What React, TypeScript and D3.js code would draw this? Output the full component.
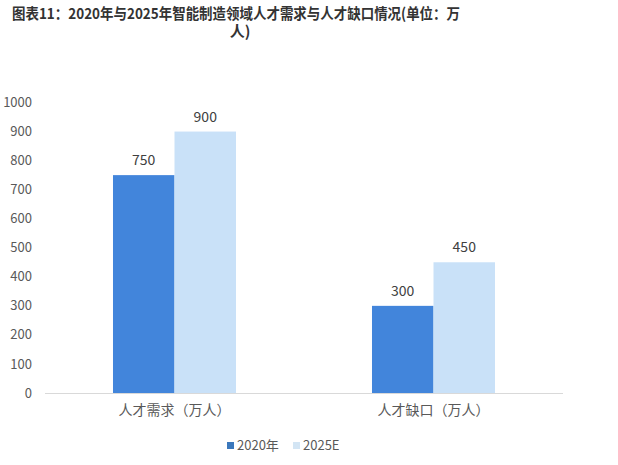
import React from 'react';
import * as d3 from 'd3';

const titleLines = ['图表11：2020年与2025年智能制造领域人才需求与人才缺口情况(单位：万', '人)'];
const categories = ['人才需求（万人）', '人才缺口（万人）'];
const seriesNames = ['2020年', '2025E'];
const values2020 = [750, 300];
const values2025 = [900, 450];
const yTicks = [0, 100, 200, 300, 400, 500, 600, 700, 800, 900, 1000];

const barColors = ['#4285DB', '#C9E1F8'];
const legendColors = ['#3B78BC', '#D3E5F4'];
const font = '"Noto Sans CJK SC", "Noto Sans", sans-serif';

const W = 618;
const H = 465;

export default function App() {
  const x0 = d3.scaleBand<string>()
    .domain(categories)
    .range([45, 563])
    .paddingInner(0.525)
    .paddingOuter(0.2625);

  const x1 = d3.scaleBand<string>()
    .domain(seriesNames)
    .range([0, x0.bandwidth()]);

  const y = d3.scaleLinear().domain([0, 1000]).range([393, 102.5]);

  const series = [values2020, values2025];

  return (
    <svg width={W} height={H} style={{ position: 'absolute', left: 0, top: 0, background: '#fff' }}>
      <text x={12} y={19} fontFamily={font} fontWeight="bold" fontSize={15} fill="#333" textLength={448} lengthAdjust="spacingAndGlyphs">
        {titleLines[0]}
      </text>
      <text x={240} y={37} textAnchor="middle" fontFamily={font} fontWeight="bold" fontSize={15} fill="#333">
        {titleLines[1]}
      </text>

      {yTicks.map(t => (
        <text key={t} x={32} y={y(t)} dy="0.35em" textAnchor="end" fontFamily={font} fontSize={13} fill="#595959">
          {t}
        </text>
      ))}

      {categories.map((c, ci) => (
        <g key={c} transform={`translate(${x0(c)},0)`}>
          {seriesNames.map((s, si) => {
            const v = series[si][ci];
            return (
              <g key={s}>
                <rect
                  x={x1(s)}
                  y={y(v)}
                  width={x1.bandwidth()}
                  height={y(0) - y(v)}
                  fill={barColors[si]}
                />
                <text
                  x={(x1(s) ?? 0) + x1.bandwidth() / 2}
                  y={y(v) - 10}
                  textAnchor="middle"
                  fontFamily={font}
                  fontSize={14}
                  fill="#404040"
                >
                  {v}
                </text>
              </g>
            );
          })}
          <text
            x={x0.bandwidth() / 2}
            y={415}
            textAnchor="middle"
            fontFamily={font}
            fontSize={14}
            fill="#595959"
          >
            {c}
          </text>
        </g>
      ))}

      <line x1={45} x2={563} y1={393.5} y2={393.5} stroke="#d9d9d9" strokeWidth={1} />

      {seriesNames.map((s, i) => {
        const lx = [227, 293][i];
        return (
          <g key={s}>
            <rect x={lx} y={442} width={7} height={7} fill={legendColors[i]} />
            <text x={lx + 10} y={450} fontFamily={font} fontSize={13} fill="#595959">{s}</text>
          </g>
        );
      })}
    </svg>
  );
}
